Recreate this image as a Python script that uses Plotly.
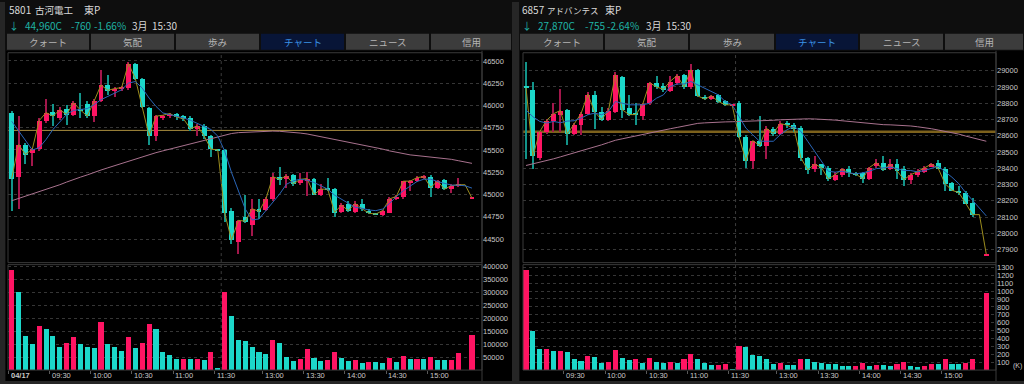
import plotly.graph_objects as go
import pandas as pd

W, H = 1024, 384
N = 68
idx = list(range(N))

tick_idx = [0, 6, 12, 18, 24, 30, 37, 43, 49, 55, 61]
tick_text = ["<b>04/17</b>", "09:30", "10:00", "10:30", "11:00", "11:30",
             "13:00", "13:30", "14:00", "14:30", "15:00"]

# ---------------- 5801 古河電工 ----------------
L_open = [45920, 45200, 45560, 45470, 45510, 45830, 45930, 45860, 45960, 45900,
          45960, 46020, 45880, 46050, 46230, 46170, 46190, 46200, 46470, 46300,
          45980, 45660, 45860, 45880, 45910, 45880, 45860, 45740, 45770, 45660,
          45510, 45500, 44820, 44470, 44750, 44660, 44840, 44830, 44950, 45200,
          45180, 45220, 45130, 45160, 45180, 45000, 45070, 45060, 44810, 44900,
          44810, 44900, 44820, 44790, 44770, 44800, 44950, 44970, 45140, 45150,
          45190, 45200, 45080, 45170, 45060, 45100, None, 44960]
L_high = [45940, 45880, 45580, 45530, 45860, 46080, 46020, 45990, 46010, 46050,
          46140, 46050, 46080, 46400, 46340, 46210, 46220, 46490, 46480, 46310,
          45990, 45900, 45900, 45920, 45920, 45900, 45880, 45790, 45790, 45670,
          45510, 45510, 44850, 44720, 45000, 44950, 44950, 44970, 45250, 45310,
          45230, 45230, 45250, 45260, 45190, 45120, 45190, 45080, 44910, 44930,
          44930, 44950, 44840, 44800, 44830, 44970, 45000, 45160, 45170, 45210,
          45220, 45220, 45170, 45180, 45120, 45190, None, 44960]
L_low = [44820, 44840, 45350, 45320, 45490, 45810, 45770, 45840, 45780, 45880,
         45860, 45860, 45820, 46040, 46120, 46100, 46160, 46180, 46290, 45970,
         45560, 45600, 45840, 45860, 45840, 45830, 45720, 45660, 45630, 45420,
         45500, 44700, 44450, 44340, 44680, 44540, 44730, 44820, 44930, 45110,
         45080, 45100, 45110, 44990, 45000, 44990, 45040, 44750, 44800, 44810,
         44800, 44820, 44780, 44770, 44760, 44790, 44940, 44950, 45040, 45140,
         45180, 44970, 45060, 45050, 45020, 45090, None, 44960]
L_close = [45180, 45560, 45450, 45510, 45830, 45920, 45880, 45950, 45900, 46030,
           45950, 45880, 46050, 46230, 46170, 46190, 46200, 46470, 46300, 45990,
           45660, 45880, 45890, 45910, 45870, 45850, 45740, 45770, 45660, 45510,
           45500, 44790, 44490, 44710, 44700, 44840, 44810, 44950, 45200, 45170,
           45210, 45120, 45170, 45180, 45000, 45060, 45060, 44800, 44880, 44820,
           44900, 44840, 44790, 44780, 44820, 44950, 44980, 45150, 45150, 45190,
           45200, 45080, 45150, 45060, 45100, 45110, None, 44960]
L_ma_short = [45823, 45711, 45600, 45500, 45525, 45618, 45730, 45820, 45900, 45945,
              45953, 45965, 46009, 46065, 46102, 46139, 46176, 46251, 46269, 46195,
              46083, 45990, 45916, 45897, 45879, 45860, 45834, 45797, 45767, 45730,
              45656, 45488, 45246, 45042, 44837, 44714, 44726, 44819, 44912, 45005,
              45116, 45153, 45172, 45161, 45135, 45098, 45060, 44993, 44949, 44900,
              44856, 44845, 44826, 44819, 44837, 44900, 44978, 45042, 45098, 45146,
              45172, 45172, 45146, 45124, 45105, 45105, 45098, 45072]
L_ma_long = [44930, 44955, 44980, 45005, 45030, 45060, 45085, 45110, 45140, 45170,
             45195, 45220, 45250, 45275, 45300, 45325, 45350, 45375, 45400, 45420,
             45445, 45470, 45490, 45510, 45530, 45550, 45570, 45590, 45610, 45630,
             45650, 45670, 45685, 45695, 45700, 45705, 45710, 45712, 45712, 45710,
             45705, 45700, 45690, 45680, 45665, 45650, 45635, 45620, 45605, 45590,
             45570, 45555, 45540, 45525, 45510, 45490, 45475, 45458, 45445, 45437,
             45430, 45423, 45415, 45405, 45395, 45380, 45365, 45350]
L_volume = [387000, 305000, 134000, 102000, 172000, 160000, 134000, 91000, 108000, 130000,
            102000, 91000, 86000, 188000, 102000, 89000, 76000, 130000, 86000, 106000,
            181000, 162000, 72000, 60000, 44000, 46000, 44000, 46000, 41000, 73000,
            9000, 304000, 211000, 117000, 115000, 89000, 72000, 63000, 117000, 107000,
            53000, 37000, 46000, 82000, 48000, 37000, 40000, 70000, 48000, 37000,
            41000, 27000, 33000, 31000, 30000, 50000, 32000, 57000, 44000, 46000,
            44000, 51000, 41000, 40000, 42000, 67000, None, 138000]
L_vol_up = [1, 0, 0, 0, 1, 0, 0, 0, 1, 1, 0, 0, 0, 1, 0, 0, 0, 1, 0, 1,
            1, 0, 0, 0, 0, 1, 0, 1, 0, 1, 0, 1, 0, 0, 0, 0, 0, 0, 1, 0,
            0, 0, 1, 1, 0, 0, 1, 1, 0, 0, 1, 0, 1, 0, 0, 1, 0, 1, 0, 1,
            0, 1, 0, 0, 1, 1, 0, 1]
L_prev_close = 45720
L_yticks = [44500, 44750, 45000, 45250, 45500, 45750, 46000, 46250, 46500]
L_vticks = [50000, 100000, 150000, 200000, 250000, 300000, 350000, 400000]

# ---------------- 6857 アドバンテスト ----------------
R_open = [28905, 28885, 28465, 28625, 28695, 28730, 28760, 28615, 28665, 28735,
          28855, 28745, 28700, 28750, 28965, 28770, 28735, 28720, 28800, 28925,
          28905, 28875, 28925, 28975, 28900, 29005, 28840, 28825, 28855, 28815,
          28790, 28800, 28595, 28445, 28570, 28540, 28640, 28615, 28680, 28665,
          28650, 28465, 28400, 28425, 28405, 28330, 28360, 28400, 28370, 28370,
          28335, 28415, 28435, 28400, 28425, 28395, 28330, 28360, 28380, 28415,
          28435, 28400, 28310, 28265, 28250, 28190, None, 27870]
R_high = [29055, 28930, 28630, 28705, 28800, 28890, 28765, 28680, 28750, 28870,
          28875, 28780, 28770, 28995, 28970, 28850, 28800, 28805, 28935, 28970,
          28925, 28970, 28980, 28980, 29045, 29010, 28850, 28855, 28860, 28820,
          28790, 28815, 28605, 28570, 28720, 28660, 28655, 28690, 28695, 28680,
          28660, 28470, 28475, 28430, 28415, 28380, 28405, 28415, 28380, 28380,
          28410, 28460, 28475, 28460, 28460, 28415, 28375, 28395, 28415, 28435,
          28455, 28410, 28320, 28295, 28260, 28220, None, 27870]
R_low = [28460, 28400, 28455, 28615, 28625, 28625, 28545, 28605, 28605, 28730,
         28640, 28690, 28690, 28740, 28710, 28720, 28665, 28700, 28790, 28890,
         28870, 28870, 28915, 28890, 28890, 28840, 28820, 28820, 28800, 28785,
         28790, 28585, 28405, 28395, 28530, 28460, 28600, 28605, 28650, 28625,
         28445, 28365, 28380, 28360, 28325, 28325, 28350, 28350, 28355, 28310,
         28330, 28405, 28385, 28390, 28335, 28295, 28305, 28350, 28370, 28410,
         28395, 28265, 28260, 28240, 28180, 28105, None, 27870]
R_close = [28895, 28475, 28625, 28695, 28735, 28755, 28610, 28670, 28735, 28855,
           28745, 28700, 28755, 28975, 28760, 28730, 28730, 28795, 28925, 28900,
           28885, 28935, 28970, 28900, 29005, 28845, 28825, 28845, 28810, 28790,
           28790, 28595, 28445, 28570, 28540, 28645, 28615, 28675, 28665, 28645,
           28465, 28390, 28425, 28405, 28335, 28360, 28395, 28370, 28365, 28335,
           28405, 28435, 28390, 28425, 28385, 28330, 28360, 28380, 28405, 28425,
           28400, 28305, 28265, 28250, 28185, 28115, None, 27870]
R_ma_short = [28757, 28717, 28688, 28678, 28688, 28680, 28690, 28692, 28708, 28729,
              28739, 28729, 28749, 28810, 28800, 28790, 28790, 28790, 28800, 28831,
              28851, 28902, 28918, 28918, 28933, 28912, 28892, 28872, 28851, 28810,
              28790, 28719, 28647, 28606, 28566, 28566, 28566, 28606, 28637, 28657,
              28627, 28566, 28505, 28443, 28382, 28376, 28382, 28372, 28366, 28372,
              28382, 28398, 28403, 28407, 28398, 28386, 28386, 28378, 28386, 28398,
              28413, 28378, 28345, 28305, 28250, 28203, 28158, 28107]
R_ma_long = [28417, 28427, 28436, 28445, 28458, 28470, 28482, 28494, 28505, 28518,
             28530, 28544, 28558, 28572, 28581, 28590, 28600, 28610, 28620, 28628,
             28635, 28643, 28651, 28660, 28670, 28676, 28679, 28682, 28683, 28685,
             28686, 28687, 28688, 28689, 28690, 28692, 28695, 28698, 28700, 28702,
             28704, 28704, 28703, 28702, 28699, 28696, 28692, 28688, 28683, 28678,
             28674, 28671, 28668, 28667, 28665, 28664, 28660, 28655, 28651, 28643,
             28635, 28627, 28618, 28610, 28598, 28587, 28576, 28566]
R_volume = [1266, 494, 274, 276, 240, 242, 231, 142, 121, 189,
            164, 100, 102, 253, 155, 138, 142, 100, 160, 104,
            92, 113, 100, 142, 210, 142, 92, 66, 70, 79,
            11, 312, 295, 198, 185, 142, 83, 100, 70, 68,
            147, 142, 108, 100, 83, 81, 62, 53, 55, 92,
            62, 70, 68, 58, 87, 108, 53, 49, 62, 79,
            77, 142, 83, 81, 100, 142, None, 982]
R_vol_up = [1, 0, 0, 1, 0, 1, 0, 0, 0, 1, 0, 0, 1, 1, 0, 0, 1, 0, 1, 0,
            0, 1, 0, 1, 1, 0, 0, 0, 1, 1, 0, 1, 0, 0, 0, 0, 0, 1, 0, 0,
            1, 0, 0, 0, 0, 0, 0, 0, 1, 1, 0, 1, 0, 0, 1, 1, 0, 0, 1, 1,
            0, 1, 0, 0, 1, 1, 0, 1]
R_prev_close = 28625
R_yticks = [27900, 28000, 28100, 28200, 28300, 28400, 28500, 28600, 28700, 28800, 28900, 29000, 29100]
R_ytext = [str(v) for v in R_yticks[:-1]] + [""]
R_vticks = [100, 200, 300, 400, 500, 600, 700, 800, 900, 1000, 1100, 1200, 1300]

# ---------------- styling ----------------
UP, DN = "#ff1463", "#1cd8ca"
UPW, DNW = "#a3174b", "#13948a"
OLIVE, BLUE, PINK = "#9c8d1e", "#2a66b8", "#a8728e"
GRID = "#363636"
FRAME = "#3a3a3a"
TXT = "#d8d8d8"
TEAL = "#1fb3a5"
NUMFONT = "Liberation Sans Narrow, Liberation Sans, sans-serif"
JPFONT = "Noto Sans CJK JP"


def X(px):
    return px / W


def Y(py):
    return 1 - py / H


fig = go.Figure()


def add_panel(o, h, l, c, ma_s, ma_l, vol, vol_up, xa, ya, xv, yv, min_body):
    xs, wb, wh, wc, bb, bh, bc = [], [], [], [], [], [], []
    for i in idx:
        if o[i] is None:
            continue
        up = c[i] >= o[i]
        xs.append(i)
        wb.append(l[i])
        wh.append(h[i] - l[i])
        wc.append(UPW if up else DNW)
        lo, hi = min(o[i], c[i]), max(o[i], c[i])
        if hi - lo < min_body:
            mid = (hi + lo) / 2
            lo, hi = mid - min_body / 2, mid + min_body / 2
        bb.append(lo)
        bh.append(hi - lo)
        bc.append(UP if up else DN)
    fig.add_trace(go.Scatter(x=idx, y=ma_l, mode="lines", line=dict(color=PINK, width=1),
                             xaxis=xa, yaxis=ya, hoverinfo="skip"))
    fig.add_trace(go.Bar(x=xs, y=wh, base=wb, width=0.16, marker=dict(color=wc, line=dict(width=0)),
                         xaxis=xa, yaxis=ya, hoverinfo="skip"))
    fig.add_trace(go.Bar(x=xs, y=bh, base=bb, width=0.72, marker=dict(color=bc, line=dict(width=0)),
                         xaxis=xa, yaxis=ya, hoverinfo="skip"))
    close_line = pd.Series(c, dtype="float").ffill().tolist()
    fig.add_trace(go.Scatter(x=idx, y=close_line, mode="lines", line=dict(color=OLIVE, width=1),
                             xaxis=xa, yaxis=ya, hoverinfo="skip"))
    fig.add_trace(go.Scatter(x=idx, y=ma_s, mode="lines", line=dict(color=BLUE, width=1),
                             xaxis=xa, yaxis=ya, hoverinfo="skip"))
    vx = [i for i in idx if vol[i] is not None]
    vy = [vol[i] for i in vx]
    vc = [UP if vol_up[i] else DN for i in vx]
    fig.add_trace(go.Bar(x=vx, y=vy, width=0.74, marker=dict(color=vc, line=dict(width=0)),
                         xaxis=xv, yaxis=yv, hoverinfo="skip"))


add_panel(L_open, L_high, L_low, L_close, L_ma_short, L_ma_long, L_volume, L_vol_up,
          "x", "y", "x2", "y2", 12)
add_panel(R_open, R_high, R_low, R_close, R_ma_short, R_ma_long, R_volume, R_vol_up,
          "x3", "y3", "x4", "y4", 6)

PRICE_DOM = [Y(262), Y(52)]
VOL_DOM = [Y(370), Y(264)]
LX = [X(8), X(482)]
RX = [X(523), X(996)]
LXR = [-0.54, 68.46]
RXR = [-0.44, 68.41]

xbase = dict(showgrid=False, zeroline=False, showline=False, showticklabels=False,
             fixedrange=True)
ybase = dict(side="right", showgrid=True, gridcolor=GRID, griddash="dot", gridwidth=1,
             zeroline=False, showline=False, ticks="", fixedrange=True,
             tickfont=dict(family=NUMFONT, size=7.5, color="#c8c8c8"))
xtick = dict(ticks="outside", ticklen=3, tickcolor="#5a5a5a", tickwidth=1)

fig.update_layout(
    width=W, height=H, autosize=False,
    margin=dict(l=0, r=0, t=0, b=0, pad=0),
    paper_bgcolor="#0e0e0e", plot_bgcolor="#000000",
    showlegend=False, hovermode=False, barmode="overlay", bargap=0,
    xaxis=dict(domain=LX, range=LXR, anchor="y", **xbase),
    yaxis=dict(domain=PRICE_DOM, range=[44235, 46581], anchor="x",
               tickvals=L_yticks, ticktext=[str(v) for v in L_yticks], **ybase),
    xaxis2=dict(domain=LX, range=LXR, anchor="y2",
                tickvals=[i - 0.5 for i in tick_idx], **xbase, **xtick),
    yaxis2=dict(domain=VOL_DOM, range=[0, 408000], anchor="x2",
                tickvals=L_vticks, ticktext=[str(v) for v in L_vticks], **ybase),
    xaxis3=dict(domain=RX, range=RXR, anchor="y3", **xbase),
    yaxis3=dict(domain=PRICE_DOM, range=[27820, 29104], anchor="x3",
                tickvals=R_yticks, ticktext=R_ytext, **ybase),
    xaxis4=dict(domain=RX, range=RXR, anchor="y4",
                tickvals=[i - 0.5 for i in tick_idx], **xbase, **xtick),
    yaxis4=dict(domain=VOL_DOM, range=[0, 1335], anchor="x4",
                tickvals=R_vticks, ticktext=[str(v) for v in R_vticks], **ybase),
)

shapes = []
# frame strips and black chart panels
shapes.append(dict(type="rect", xref="paper", yref="paper", x0=X(0), x1=X(5), y0=Y(384), y1=Y(0),
                   fillcolor="#262626", line=dict(width=0), layer="below"))
shapes.append(dict(type="rect", xref="paper", yref="paper", x0=X(512), x1=X(519), y0=Y(384), y1=Y(0),
                   fillcolor="#262626", line=dict(width=0), layer="below"))
for x0, x1 in [(6, 512), (520, 1024)]:
    shapes.append(dict(type="rect", xref="paper", yref="paper", x0=X(x0), x1=X(x1), y0=Y(381), y1=Y(49),
                       fillcolor="#000000", line=dict(width=0), layer="below"))
shapes.append(dict(type="rect", xref="paper", yref="paper", x0=X(0), x1=X(1024), y0=Y(384), y1=Y(381),
                   fillcolor="#262626", line=dict(width=0), layer="below"))
# plot borders
for (x0, x1) in [(8, 482), (523, 996)]:
    for (y0, y1) in [(51, 262), (264, 370)]:
        shapes.append(dict(type="rect", xref="paper", yref="paper", x0=X(x0), x1=X(x1), y0=Y(y1), y1=Y(y0),
                           line=dict(color=FRAME, width=1), fillcolor="rgba(0,0,0,0)", layer="above"))
    shapes.append(dict(type="line", xref="paper", yref="paper", x0=X(x1), x1=X(x1), y0=Y(381), y1=Y(49),
                       line=dict(color=FRAME, width=1), layer="above"))
# previous close lines
shapes.append(dict(type="line", xref="x domain", yref="y", x0=0, x1=1, y0=L_prev_close, y1=L_prev_close,
                   line=dict(color="#a98d3e", width=1), layer="below"))
shapes.append(dict(type="line", xref="x3 domain", yref="y3", x0=0, x1=1, y0=R_prev_close, y1=R_prev_close,
                   line=dict(color="#7c611c", width=2.5), layer="below"))
# lunch-break separators
for xr in ["x", "x3"]:
    shapes.append(dict(type="line", xref=xr, yref="paper", x0=30.5, x1=30.5, y0=Y(370), y1=Y(51),
                       line=dict(color="#3c3c3c", width=1, dash="dot"), layer="above"))

# tabs
tab_names = ["クォート", "気配", "歩み", "チャート", "ニュース", "信用"]
annotations = []
for bounds in [[6, 90, 175, 260, 345, 430, 512], [519, 604, 689, 775, 859, 944, 1024]]:
    for k, name in enumerate(tab_names):
        active = (k == 3)
        shapes.append(dict(type="rect", xref="paper", yref="paper",
                           x0=X(bounds[k] + 1), x1=X(bounds[k + 1] - 1), y0=Y(48), y1=Y(32),
                           fillcolor="#081537" if active else "#3c3c3c", line=dict(width=0), layer="below"))
        annotations.append(dict(xref="paper", yref="paper", x=X((bounds[k] + bounds[k + 1]) / 2), y=Y(40),
                                text=name, showarrow=False, xanchor="center", yanchor="middle",
                                font=dict(family=JPFONT, size=9.5, color="#3b93e6" if active else "#b4b4b4")))


def ann(x, y, text, color=TXT, size=10, family=JPFONT):
    annotations.append(dict(xref="paper", yref="paper", x=X(x), y=Y(y), text=text, showarrow=False,
                            xanchor="left", yanchor="middle", font=dict(family=family, size=size, color=color)))


# headers
ann(7, 8, "5801")
ann(33, 8, "古河電工", size=9.5)
ann(82, 8, "東P")
ann(7, 24, "↓", TEAL)
ann(23, 24, "44,960C", TEAL)
ann(69, 24, "-760", TEAL)
ann(92, 24, "-1.66%", TEAL)
ann(130, 24, "3月")
ann(150, 24, "15:30")

ann(520, 8, "6857")
ann(545, 8, "アドバンテス", size=8.5)
ann(603, 8, "東P")
ann(520, 24, "↓", TEAL)
ann(536, 24, "27,870C", TEAL)
ann(583, 24, "-755", TEAL)
ann(605, 24, "-2.64%", TEAL)
ann(644, 24, "3月")
ann(664, 24, "15:30")

# time labels under the volume panes
for xr in ["x2", "x4"]:
    for i, t in zip(tick_idx, tick_text):
        annotations.append(dict(xref=xr, yref="paper", x=i - 0.45, y=Y(375.5), text=t, showarrow=False,
                                xanchor="left", yanchor="middle",
                                font=dict(family=NUMFONT, size=7.5, color="#c8c8c8")))
ann(1011, 366, "(K)", "#c8c8c8", 7, NUMFONT)

fig.update_layout(shapes=shapes, annotations=annotations)
fig.write_html("out.html", config={"displayModeBar": False})

# remove the default page margin so the 1024x384 figure fills the window exactly
with open("out.html", "r", encoding="utf-8") as f:
    html = f.read()
html = html.replace("<head>", "<head><style>html,body{margin:0;padding:0;overflow:hidden;background:#0e0e0e;}</style>", 1)
with open("out.html", "w", encoding="utf-8") as f:
    f.write(html)
